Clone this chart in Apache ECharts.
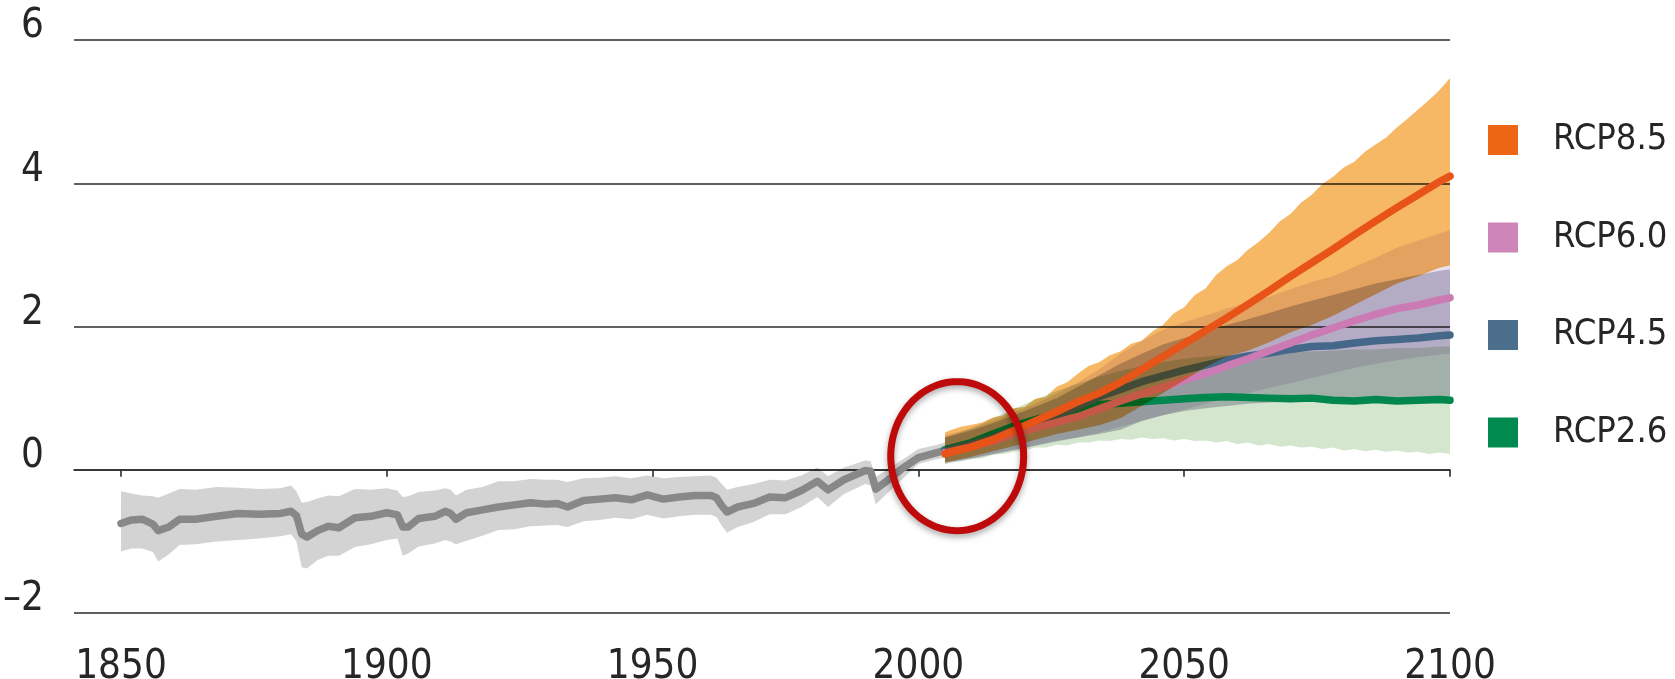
<!DOCTYPE html>
<html>
<head>
<meta charset="utf-8">
<script src="https://cdn.jsdelivr.net/npm/echarts@6/dist/echarts.min.js"></script>
<style>
html,body{margin:0;padding:0;background:#fff;}
#chart{width:1675px;height:679px;}
</style>
</head>
<body>
<div id="chart"></div>
<script>
// ---------- data ----------
const xTickValues = [1850, 1900, 1950, 2000, 2050, 2100];
const yTickValues = [-2, 0, 2, 4, 6];

const histYears = [1850,1852,1854,1856,1857,1859,1861,1864,1868,1872,1876,1880,1882,1883,1884,1885,1887,1889,1891,1894,1897,1900,1902,1903,1904,1906,1909,1911,1912,1913,1915,1918,1921,1924,1927,1930,1932,1934,1937,1940,1943,1946,1949,1952,1955,1958,1961,1962,1963,1964,1966,1969,1972,1975,1978,1981,1983,1986,1990,1991,1992,1994,1997,2000,2003,2005];
const histMean = [-0.75,-0.70,-0.69,-0.76,-0.85,-0.80,-0.69,-0.69,-0.65,-0.61,-0.62,-0.61,-0.58,-0.64,-0.90,-0.94,-0.85,-0.79,-0.81,-0.67,-0.65,-0.60,-0.63,-0.80,-0.80,-0.68,-0.65,-0.58,-0.61,-0.69,-0.60,-0.56,-0.52,-0.49,-0.46,-0.48,-0.47,-0.52,-0.43,-0.41,-0.39,-0.42,-0.35,-0.41,-0.38,-0.36,-0.36,-0.39,-0.50,-0.59,-0.52,-0.47,-0.38,-0.39,-0.29,-0.16,-0.28,-0.14,-0.01,-0.02,-0.27,-0.16,0.02,0.17,0.23,0.27];
const histHigh = [-0.30,-0.33,-0.36,-0.37,-0.39,-0.33,-0.27,-0.28,-0.24,-0.25,-0.27,-0.26,-0.22,-0.30,-0.46,-0.45,-0.40,-0.36,-0.37,-0.27,-0.28,-0.26,-0.29,-0.38,-0.37,-0.31,-0.29,-0.26,-0.28,-0.36,-0.28,-0.24,-0.16,-0.16,-0.13,-0.14,-0.14,-0.17,-0.12,-0.11,-0.09,-0.12,-0.08,-0.12,-0.10,-0.09,-0.08,-0.11,-0.20,-0.28,-0.24,-0.20,-0.14,-0.15,-0.08,0.03,-0.09,0.03,0.13,0.12,-0.10,0.00,0.14,0.29,0.34,0.38];
const histLow = [-1.14,-1.10,-1.10,-1.15,-1.28,-1.18,-1.05,-1.04,-1.00,-0.98,-0.96,-0.93,-0.90,-1.00,-1.36,-1.38,-1.26,-1.20,-1.20,-1.08,-1.04,-0.98,-0.96,-1.20,-1.17,-1.07,-1.03,-0.98,-1.00,-1.04,-0.99,-0.92,-0.84,-0.83,-0.79,-0.78,-0.77,-0.80,-0.72,-0.70,-0.67,-0.69,-0.63,-0.68,-0.65,-0.63,-0.63,-0.66,-0.78,-0.88,-0.80,-0.73,-0.62,-0.62,-0.52,-0.38,-0.52,-0.34,-0.20,-0.22,-0.48,-0.34,-0.13,0.08,0.14,0.17];

const projYears = [2005,2010,2014,2018,2022,2026,2030,2034,2038,2042,2046,2050,2054,2058,2062,2066,2070,2074,2078,2082,2086,2090,2094,2098,2100];
const fineYears = [2005,2006,2008,2010,2012,2014,2016,2018,2020,2022,2024,2026,2028,2030,2032,2034,2036,2038,2040,2042,2044,2046,2048,2050,2052,2054,2056,2058,2060,2062,2064,2066,2068,2070,2072,2074,2076,2078,2080,2082,2084,2086,2088,2090,2092,2094,2096,2098,2100];

const rcp85Mean = [0.22,0.32,0.42,0.55,0.68,0.81,0.95,1.07,1.22,1.40,1.58,1.76,1.94,2.12,2.31,2.50,2.70,2.89,3.08,3.28,3.47,3.66,3.84,4.02,4.10];
const rcp85High = [0.52,0.55,0.60,0.63,0.66,0.73,0.76,0.86,0.88,0.99,1.02,1.16,1.22,1.34,1.45,1.50,1.60,1.65,1.76,1.80,1.93,2.02,2.18,2.27,2.44,2.53,2.72,2.84,2.93,3.07,3.18,3.31,3.47,3.57,3.73,3.84,3.99,4.09,4.22,4.30,4.44,4.54,4.64,4.78,4.90,5.03,5.16,5.30,5.47];
const rcp85Low  = [0.10,0.18,0.26,0.33,0.42,0.50,0.56,0.62,0.72,0.89,1.07,1.25,1.43,1.58,1.66,1.78,1.92,2.02,2.15,2.30,2.45,2.60,2.70,2.82,2.85];

const rcp60Mean = [0.24,0.32,0.40,0.50,0.58,0.66,0.74,0.85,0.96,1.06,1.15,1.25,1.34,1.45,1.55,1.66,1.77,1.88,1.98,2.08,2.17,2.25,2.30,2.37,2.40];
const rcp60High = [0.48,0.58,0.68,0.80,0.92,1.06,1.22,1.40,1.62,1.80,1.95,2.06,2.15,2.25,2.33,2.42,2.52,2.62,2.70,2.83,2.96,3.10,3.20,3.30,3.35];
const rcp60Low  = [0.08,0.15,0.21,0.27,0.33,0.39,0.45,0.52,0.60,0.68,0.76,0.84,0.92,1.00,1.07,1.14,1.21,1.28,1.35,1.42,1.48,1.53,1.57,1.61,1.62];

const rcp45Mean = [0.26,0.36,0.45,0.56,0.66,0.76,0.88,1.02,1.12,1.23,1.31,1.39,1.46,1.53,1.59,1.63,1.68,1.72,1.73,1.77,1.80,1.82,1.84,1.87,1.88];
const rcp45High = [0.45,0.55,0.65,0.76,0.88,1.00,1.16,1.32,1.48,1.62,1.75,1.84,1.93,2.02,2.10,2.19,2.28,2.36,2.44,2.52,2.60,2.66,2.72,2.78,2.80];
const rcp45Low  = [0.10,0.16,0.22,0.28,0.34,0.40,0.45,0.50,0.56,0.68,0.76,0.82,0.86,0.89,0.92,0.94,0.95,0.96,0.97,0.98,0.99,1.00,1.00,1.01,1.01];

const rcp26Mean = [0.28,0.38,0.50,0.61,0.70,0.78,0.85,0.91,0.93,0.95,0.97,0.99,1.01,1.02,1.01,1.00,0.99,1.00,0.97,0.96,0.98,0.96,0.97,0.98,0.97];
const rcp26High = [0.45,0.58,0.72,0.85,0.98,1.10,1.20,1.30,1.38,1.45,1.50,1.55,1.58,1.60,1.62,1.64,1.64,1.65,1.66,1.68,1.68,1.70,1.70,1.72,1.72];
const rcp26Low  = [0.08,0.10,0.12,0.15,0.16,0.21,0.22,0.25,0.27,0.31,0.31,0.35,0.34,0.38,0.38,0.41,0.40,0.43,0.42,0.45,0.43,0.44,0.41,0.43,0.40,0.41,0.38,0.40,0.36,0.38,0.34,0.36,0.32,0.34,0.31,0.32,0.29,0.31,0.27,0.29,0.26,0.28,0.25,0.27,0.24,0.25,0.22,0.24,0.22];

const legendNames = ['RCP8.5', 'RCP6.0', 'RCP4.5', 'RCP2.6'];
const highlightCenter = [2007.3, 0.19];
const highlightRadius = [12.5, 1.04];

// ---------- helpers ----------
const pairs = (xs, ys) => xs.map((x, i) => [x, ys[i]]);
const FONT = "'DejaVu Sans Condensed', 'Liberation Sans Narrow', 'Arial Narrow', sans-serif";

function band(name, hiYears, high, loYears, low, fill, z) {
  return {
    type: 'custom', name: name, silent: true, animation: false, z: z,
    blendMode: 'multiply',
    coordinateSystem: 'cartesian2d',
    data: [[loYears[0], low[0]]],
    renderItem: function (params, api) {
      const pts = [];
      for (let i = 0; i < hiYears.length; i++) pts.push(api.coord([hiYears[i], high[i]]));
      for (let i = loYears.length - 1; i >= 0; i--) pts.push(api.coord([loYears[i], low[i]]));
      return { type: 'polygon', shape: { points: pts }, style: { fill: fill, stroke: null } };
    }
  };
}
function line(name, years, vals, color, legendColor, z) {
  return {
    type: 'line', name: name, data: pairs(years, vals), showSymbol: false, symbol: 'none',
    silent: true, animation: false, z: z,
    lineStyle: { color: color, width: 7.5, join: 'round', cap: 'round' },
    itemStyle: { color: legendColor || color }
  };
}

const chart = echarts.init(document.getElementById('chart'), null, { renderer: 'canvas' });

const option = {
  animation: false,
  backgroundColor: '#ffffff',
  grid: { left: 74, right: 225, top: 40, bottom: 66, containLabel: false, outerBoundsMode: 'none' },
  xAxis: {
    type: 'value', min: 1841.16, max: 2100,
    axisLine: { show: true, lineStyle: { color: '#2b2b2b', width: 1.6 } },
    axisTick: { show: true, customValues: xTickValues, length: 7, lineStyle: { color: '#2b2b2b', width: 1.6 } },
    axisLabel: { customValues: xTickValues, margin: 35, fontFamily: FONT, fontSize: 40, color: '#262626', lineHeight: 40, formatter: v => String(v) },
    splitLine: { show: false }
  },
  yAxis: {
    type: 'value', min: -2, max: 6, interval: 2,
    axisLine: { show: false }, axisTick: { show: false },
    axisLabel: { margin: 30, fontFamily: FONT, fontSize: 40, color: '#262626', verticalAlign: 'bottom', lineHeight: 26,
      formatter: v => (v < 0 ? '\u2013' + Math.abs(v) : String(v)) },
    splitLine: { show: true, lineStyle: { color: '#2b2b2b', width: 1.6 } }
  },
  legend: {
    orient: 'vertical', left: 1488, top: 122, padding: 0,
    itemWidth: 30, itemHeight: 30, itemGap: 61.5, icon: 'rect', selectedMode: false,
    textStyle: { fontFamily: FONT, fontSize: 36, color: '#262626', lineHeight: 30, padding: [0, 0, 0, 30] },
    data: [
      { name: legendNames[0], itemStyle: { color: '#EC6614' } },
      { name: legendNames[1], itemStyle: { color: '#CE86B8' } },
      { name: legendNames[2], itemStyle: { color: '#4A6E8C' } },
      { name: legendNames[3], itemStyle: { color: '#008A50' } }
    ]
  },
  series: [
    band('histBand', histYears, histHigh, histYears, histLow, '#D3D3D3', 1),
    line('Historical', histYears, histMean, '#888888', null, 2),
    band('band26', projYears, rcp26High, fineYears, rcp26Low, '#D4E6CD', 3),
    band('band45', projYears, rcp45High, projYears, rcp45Low, '#C3C3D2', 3),
    band('band60', projYears, rcp60High, projYears, rcp60Low, '#EBE1F0', 3),
    line(legendNames[3], projYears, rcp26Mean, '#00874E', '#008A50', 4),
    line(legendNames[2], projYears, rcp45Mean, '#45678A', '#4A6E8C', 4),
    line(legendNames[1], projYears, rcp60Mean, '#CC7AB3', '#CE86B8', 4),
    band('band85', fineYears, rcp85High, projYears, rcp85Low, '#F7B865', 5),
    line(legendNames[0], projYears, rcp85Mean, '#E85418', '#EC6614', 6),
    {
      type: 'custom', name: 'highlight', silent: true, animation: false, z: 7,
      coordinateSystem: 'cartesian2d',
      data: [highlightCenter],
      renderItem: function (params, api) {
        const c = api.coord([api.value(0), api.value(1)]);
        const s = api.size([highlightRadius[0], highlightRadius[1]]);
        const pts = [];
        for (let k = 0; k < 120; k++) {
          const a = k / 120 * Math.PI * 2;
          pts.push([c[0] + s[0] * Math.cos(a), c[1] + s[1] * Math.sin(a)]);
        }
        return { type: 'polygon', shape: { points: pts },
          style: { fill: null, stroke: '#BE0A0A', lineWidth: 7,
            shadowColor: 'rgba(0,0,0,0.35)', shadowBlur: 6, shadowOffsetY: 3 } };
      }
    }
  ]
};
chart.setOption(option);
</script>
</body>
</html>
